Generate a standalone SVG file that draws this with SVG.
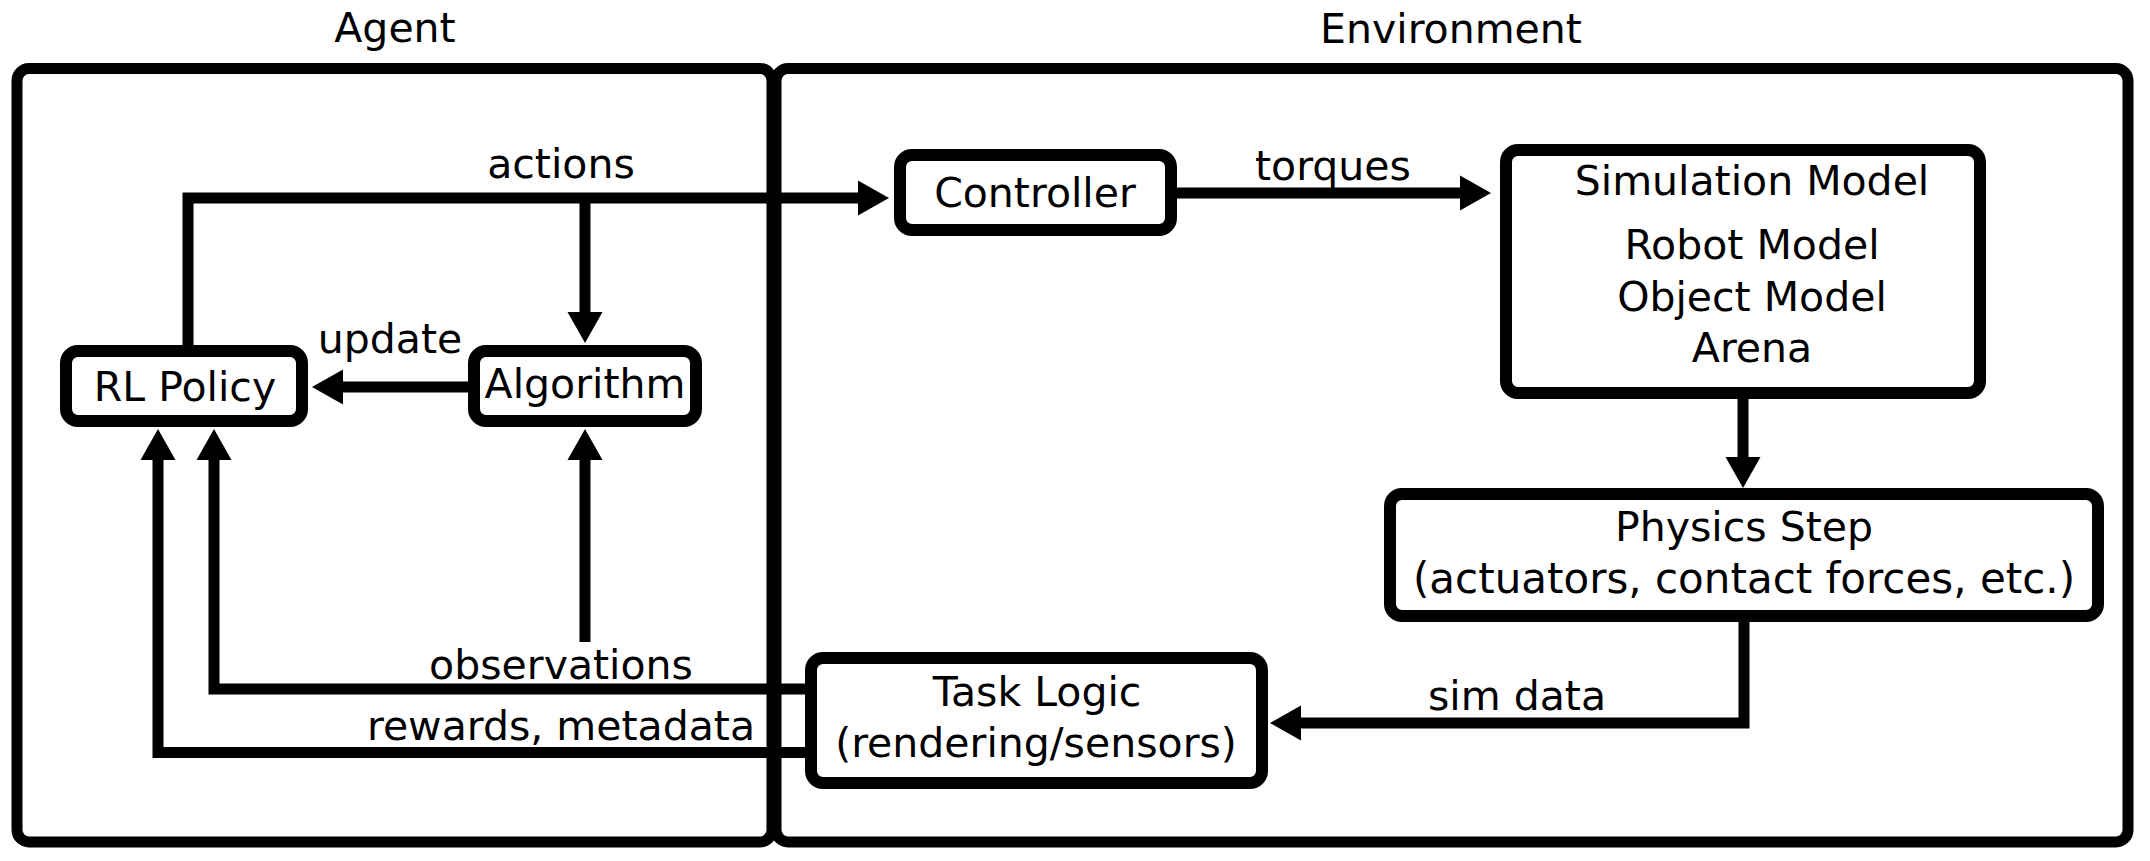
<svg xmlns="http://www.w3.org/2000/svg" width="2150" height="861" viewBox="0 0 2150 861">
<style>
  .container { fill: none; stroke: #000; stroke-width: 11; }
  .node rect { fill: #fff; stroke: #000; stroke-width: 12; }
  .conn { fill: none; stroke: #000; stroke-width: 11; stroke-linejoin: miter; }
  text { font-family: "DejaVu Sans", Verdana, sans-serif; font-size: 41px; fill: #000; text-anchor: middle; }
  .wide { font-size: 42px; }
</style>
<defs>
  <marker id="arrow" markerUnits="userSpaceOnUse" markerWidth="32" markerHeight="36" refX="1" refY="17.5" orient="auto" overflow="visible">
    <path d="M0,0 L31,17.5 L0,35 z" fill="#000"/>
  </marker>
</defs>
<rect width="2150" height="861" fill="#fff"/>

<g id="agent-container">
  <rect class="container" x="17" y="68.5" width="755" height="773.5" rx="12"/>
  <text x="395" y="42">Agent</text>
</g>
<g id="environment-container">
  <rect class="container" x="776" y="68.5" width="1352" height="773.5" rx="12"/>
  <text x="1451" y="43">Environment</text>
</g>

<g id="connectors">
  <polyline class="conn" points="188,351 188,198 859,198" marker-end="url(#arrow)"/>
  <polyline class="conn" points="585,198 585,313" marker-end="url(#arrow)"/>
  <polyline class="conn" points="1177,193 1461,193" marker-end="url(#arrow)"/>
  <polyline class="conn" points="1743,393 1743,458" marker-end="url(#arrow)"/>
  <polyline class="conn" points="1744,616 1744,723 1300,723" marker-end="url(#arrow)"/>
  <polyline class="conn" points="474,387 342,387" marker-end="url(#arrow)"/>
  <polyline class="conn" points="811,689 214,689 214,459" marker-end="url(#arrow)"/>
  <polyline class="conn" points="585,642 585,459" marker-end="url(#arrow)"/>
  <polyline class="conn" points="811,752.5 158,752.5 158,459" marker-end="url(#arrow)"/>
  <text x="561" y="178">actions</text>
  <text x="390" y="353">update</text>
  <text x="1333" y="180">torques</text>
  <text x="1517" y="710">sim data</text>
  <text x="561" y="679">observations</text>
  <text x="561" y="740">rewards, metadata</text>
</g>

<g id="rl-policy" class="node">
  <rect x="66" y="351" width="236" height="70" rx="12"/>
  <text x="185" y="401">RL Policy</text>
</g>
<g id="algorithm" class="node">
  <rect x="474" y="351" width="222" height="70" rx="12"/>
  <text x="585" y="398">Algorithm</text>
</g>
<g id="controller" class="node">
  <rect x="900" y="155" width="271" height="75" rx="12"/>
  <text x="1035" y="207">Controller</text>
</g>
<g id="simulation-model" class="node">
  <rect x="1506" y="150" width="474" height="243" rx="12"/>
  <text x="1752" y="195">Simulation Model</text>
  <text x="1752" y="259">Robot Model</text>
  <text x="1752" y="311">Object Model</text>
  <text x="1752" y="362">Arena</text>
</g>
<g id="physics-step" class="node">
  <rect x="1390" y="494" width="708" height="122" rx="12"/>
  <text x="1744" y="541">Physics Step</text>
  <text class="wide" x="1744" y="593">(actuators, contact forces, etc.)</text>
</g>
<g id="task-logic" class="node">
  <rect x="811" y="658" width="451" height="125" rx="12"/>
  <text x="1037" y="706">Task Logic</text>
  <text x="1036" y="757">(rendering/sensors)</text>
</g>
</svg>
